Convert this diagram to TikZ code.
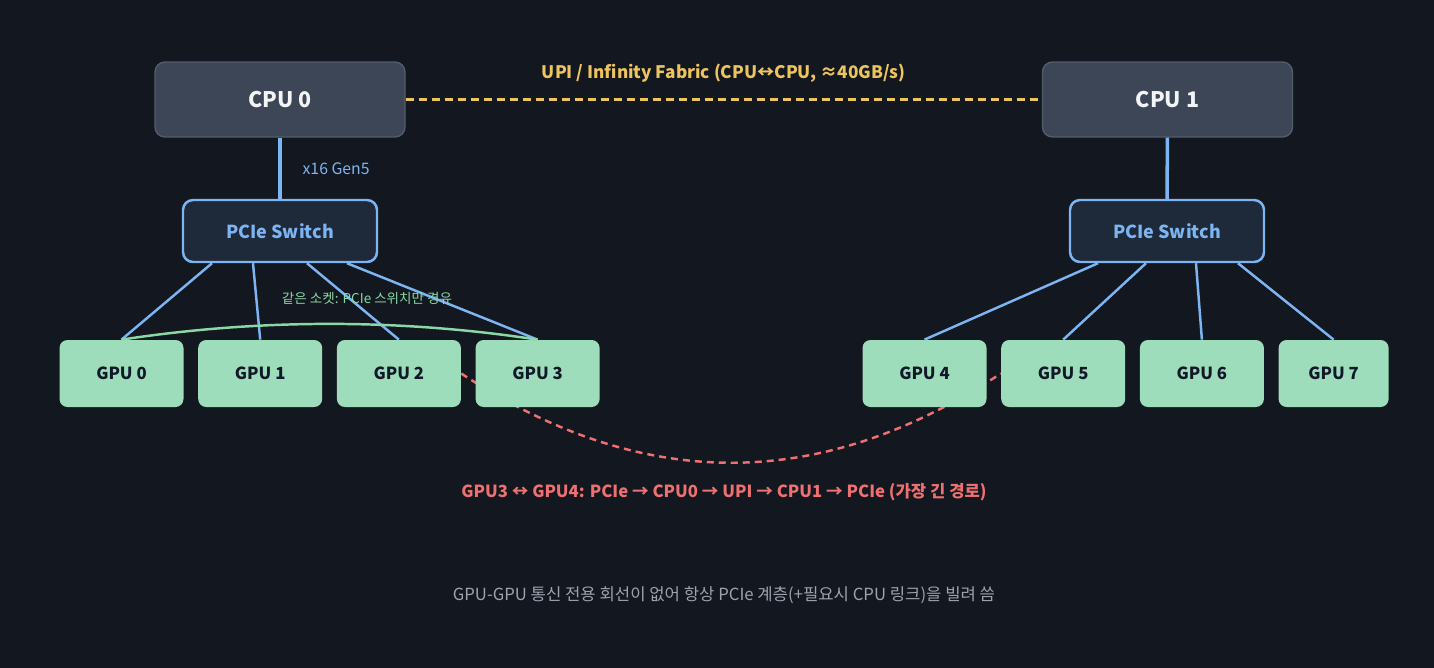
\documentclass[tikz,border=0pt]{standalone}
\usepackage{fontspec}
\setmainfont{Noto Sans CJK KR}
\usepackage{tikz}
\usetikzlibrary{positioning, backgrounds, calc}
\definecolor{bgc}{HTML}{13171F}
\definecolor{cpufill}{HTML}{3C4656}
\definecolor{cpuedge}{HTML}{525D6B}
\definecolor{swfill}{HTML}{1E2939}
\definecolor{linkblue}{HTML}{7DB5F2}
\definecolor{gpufill}{HTML}{9DDDBB}
\definecolor{gputext}{HTML}{111827}
\definecolor{arcgreen}{HTML}{8BD8A6}
\definecolor{upiyellow}{HTML}{EEC45F}
\definecolor{pathred}{HTML}{EE7070}
\definecolor{notegray}{HTML}{9CA3AF}

\begin{document}
\begin{tikzpicture}[
  node distance=0.28cm,
  cpu/.style={draw=cpuedge, fill=cpufill, line width=0.8pt, rounded corners=0.2cm,
    minimum width=5cm, minimum height=1.5cm, text=white!94!cpufill,
    font=\fontsize{12.2}{14}\selectfont\bfseries},
  switch/.style={draw=linkblue, fill=swfill, line width=1.4pt, rounded corners=0.2cm,
    minimum width=3.88cm, minimum height=1.24cm, text=linkblue,
    font=\fontsize{10.2}{12}\selectfont\bfseries},
  gpu/.style={fill=gpufill, rounded corners=0.16cm, minimum width=2.48cm,
    minimum height=1.34cm, text=gputext, font=\fontsize{9.5}{11}\selectfont\bfseries},
  link/.style={linkblue, line width=1.4pt},
  upi/.style={upiyellow, line width=1.7pt, dash pattern=on 0.16cm off 0.1cm},
  far/.style={pathred, line width=1.4pt, dash pattern=on 0.14cm off 0.1cm}
]
\useasboundingbox (0,0) rectangle (28.68,-13.36);

\node[cpu] (cpu0) at (5.6,-1.99) {CPU 0};
\node[cpu] (cpu1) at (23.35,-1.99) {CPU 1};
\node[switch] (sw0) at (5.6,-4.62) {PCIe Switch};
\node[switch] (sw1) at (23.34,-4.62) {PCIe Switch};

\node[gpu] (g0) at (2.43,-7.47) {GPU 0};
\node[gpu, right=of g0] (g1) {GPU 1};
\node[gpu, right=of g1] (g2) {GPU 2};
\node[gpu, right=of g2] (g3) {GPU 3};
\node[gpu] (g4) at (18.49,-7.47) {GPU 4};
\node[gpu, right=of g4] (g5) {GPU 5};
\node[gpu, right=of g5] (g6) {GPU 6};
\node[gpu, right=of g6, minimum width=2.2cm] (g7) {GPU 7};

\begin{scope}[on background layer]
  \fill[bgc] (0,0) rectangle (28.68,-13.36);
  \draw[far] (g2.east) .. controls +(3.62,-2.38) and +(-3.62,-2.38) .. (g5.west);
\end{scope}

\draw[upi] (cpu0) -- (cpu1)
  node[midway, above=0.2cm, font=\fontsize{9.8}{11}\selectfont\bfseries]
  {UPI / Infinity Fabric (CPU↔CPU, ≈40GB/s)};

\draw[linkblue, line width=2pt] (cpu0) -- (sw0)
  node[midway, right=0.3cm, font=\fontsize{9}{10}\selectfont] {x16 Gen5};
\draw[linkblue, line width=2pt] (cpu1) -- (sw1);

\foreach \dx/\g in {-1.36/g0, -0.54/g1, 0.54/g2, 1.34/g3}
  \draw[link] ($(sw0.south)+(\dx,0)$) -- (\g.north);
\foreach \dx/\g in {-1.38/g4, -0.42/g5, 0.58/g6, 1.42/g7}
  \draw[link] ($(sw1.south)+(\dx,0)$) -- (\g.north);

\draw[arcgreen, line width=1.4pt] (g0.north) .. controls +(2.76,0.42) and +(-2.76,0.42) .. (g3.north);
\node[text=arcgreen, font=\fontsize{7.7}{9}\selectfont] (samelbl) at (7.34,-5.96)
  {같은 소켓: PCIe 스위치만 경유};

\node[text=pathred, font=\fontsize{9.5}{11}\selectfont\bfseries] (farlbl) at (14.48,-9.84)
  {GPU3 ↔ GPU4: PCIe → CPU0 → UPI → CPU1 → PCIe (가장 긴 경로)};
\node[text=notegray, font=\fontsize{9.5}{11}\selectfont] (note) at (14.48,-11.9)
  {GPU-GPU 통신 전용 회선이 없어 항상 PCIe 계층(+필요시 CPU 링크)을 빌려 씀};
\end{tikzpicture}
\end{document}
